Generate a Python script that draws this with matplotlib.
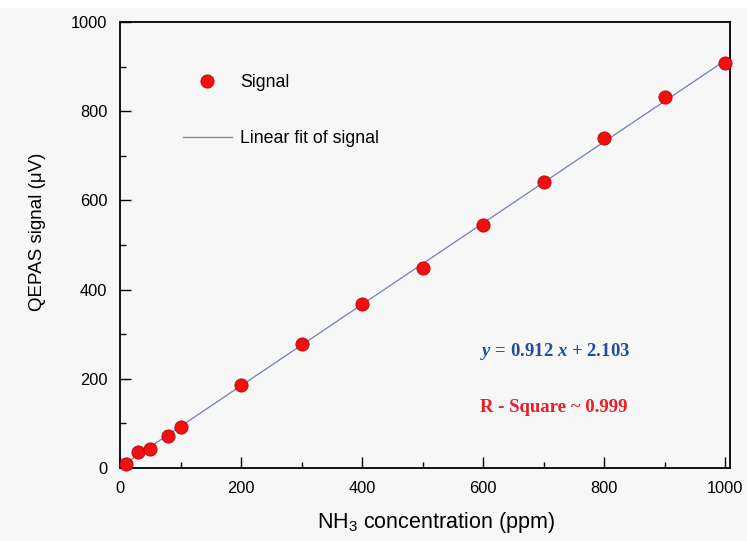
import matplotlib
matplotlib.use("Agg")
import matplotlib.pyplot as plt
from matplotlib.lines import Line2D
from matplotlib.patches import Rectangle

# ---- data ----
concentration = [10, 30, 50, 80, 100, 200, 300, 400, 500, 600, 700, 800, 900, 1000]
signal = [8, 36, 43, 72, 92, 187, 278, 368, 449, 545, 642, 740, 832, 908]
fit_slope = 0.912
fit_intercept = 2.103
fit_x = [0, 1000]
x_ticks = [0, 200, 400, 600, 800, 1000]
y_ticks = [0, 200, 400, 600, 800, 1000]

plt.rcParams['font.family'] = ['Liberation Sans', 'DejaVu Sans']
plt.rcParams['mathtext.fontset'] = 'custom'
plt.rcParams['mathtext.rm'] = 'Liberation Serif:bold'
plt.rcParams['mathtext.it'] = 'Liberation Serif:italic:bold'
plt.rcParams['mathtext.sf'] = 'Liberation Sans'

bg = '#f7f7f7'
fig = plt.figure(figsize=(7.47, 5.41), dpi=100, facecolor=bg)
fig.patches.append(Rectangle((0, 0.985), 1, 0.015, transform=fig.transFigure,
                             facecolor='white', edgecolor='none', zorder=-1))
ax = fig.add_axes([0.1606, 0.1349, 0.8170, 0.8244])
ax.set_facecolor(bg)

fit_y = [fit_slope * v + fit_intercept for v in fit_x]
ax.plot(fit_x, fit_y, color='#7080b0', lw=0.9, zorder=2)
ax.plot(concentration, signal, linestyle='none', marker='o', ms=9.5,
        markerfacecolor='#f01010', markeredgecolor='#c00000', markeredgewidth=0.6,
        zorder=3, clip_on=False)

ax.set_xlim(0, 1008)
ax.set_ylim(0, 1000)
ax.set_xticks(x_ticks)
ax.set_yticks(y_ticks)
ax.set_xticks([100, 300, 500, 700, 900], minor=True)
ax.set_yticks([100, 300, 500, 700, 900], minor=True)
ax.tick_params(which='both', direction='in', top=False, right=False,
               labelsize=11.8, color='black', width=1.0)
ax.tick_params(which='major', length=8, pad=9)
ax.tick_params(which='minor', length=4.5)
for s in ax.spines.values():
    s.set_linewidth(1.3)

ax.set_xlabel(r'NH$_{\mathsf{3}}$ concentration (ppm)', fontsize=15.5, labelpad=9)
ax.xaxis.set_label_coords(0.518, -0.095)
ax.set_ylabel('QEPAS signal (μV)', fontsize=13.5, labelpad=12)
ax.yaxis.set_label_coords(-0.122, 0.53)

handles = [Line2D([], [], linestyle='none', marker='o', ms=9.5,
                  markerfacecolor='#f01010', markeredgecolor='#c00000', markeredgewidth=0.6),
           Line2D([], [], color='#7080b0', lw=0.9)]
ax.legend(handles, ['Signal', 'Linear fit of signal'], loc='upper left',
          bbox_to_anchor=(0.1032, 0.884), frameon=False, fontsize=12.8,
          borderpad=0, borderaxespad=0, labelspacing=2.2, handlelength=2.75,
          handletextpad=0.45)

ax.text(0.590, 0.261, r'$y$ = 0.912 $x$ + 2.103', transform=ax.transAxes,
        fontsize=13.5, color='#1f4e9a', family='Liberation Serif', weight='bold',
        va='center', ha='left')
ax.text(0.590, 0.135, 'R - Square ~ 0.999', transform=ax.transAxes,
        fontsize=13.5, color='#ee1c25', family='Liberation Serif', weight='bold',
        va='center', ha='left')

fig.savefig('out.png', dpi=100, facecolor=bg)
